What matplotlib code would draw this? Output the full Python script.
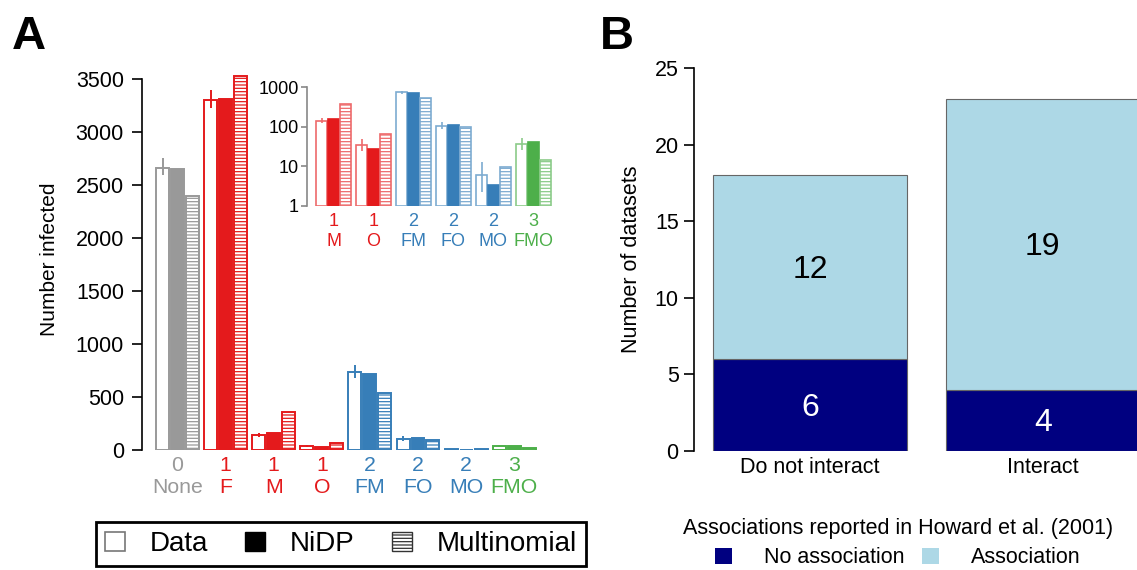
import matplotlib
matplotlib.use('Agg')

import numpy as np
import matplotlib.pyplot as plt
from matplotlib.patches import Patch
from matplotlib.colors import to_rgb

plt.rcParams['font.family'] = ['Liberation Sans', 'DejaVu Sans']

# ---------------------------------------------------------------------------
# data
# ---------------------------------------------------------------------------
groups = ['None', 'F', 'M', 'O', 'FM', 'FO', 'MO', 'FMO']
n_factors = ['0', '1', '1', '1', '2', '2', '2', '3']
data_vals = [2660, 3300, 141, 35, 735, 107, 6.0, 37]
data_lo = [2590, 3230, 122, 25, 680, 88, 2.2, 26]
data_hi = [2750, 3395, 165, 49, 800, 129, 13, 51]
nidp_vals = [2650, 3310, 158, 27, 718, 113, 3.45, 42]
multi_vals = [2400, 3530, 363, 65, 534, 97, 9.8, 14.7]
group_colors = ['#999999', '#E41A1C', '#E41A1C', '#E41A1C',
                '#377EB8', '#377EB8', '#377EB8', '#4DAF4A']
inset_idx = [2, 3, 4, 5, 6, 7]

b_cats = ['Do not interact', 'Interact']
b_no_assoc = [6, 4]
b_assoc = [12, 19]

W, H = 1137, 570


def px_axes(left, right, bottom, top):
    # pixel box (y from top) -> figure fraction
    return [left / W, 1 - bottom / H, (right - left) / W, (bottom - top) / H]


def lighten(c, amt):
    r = np.array(to_rgb(c))
    return tuple(r + (1 - r) * amt)


def draw_groups(ax, idx, width, off, base=0, light=0.0, lw=1.4):
    x = np.arange(len(idx))
    for k, i in enumerate(idx):
        c = group_colors[i]
        cl = lighten(c, light)
        ax.bar(x[k] - off, data_vals[i] - base, width, bottom=base,
               facecolor='white', edgecolor=cl, linewidth=lw)
        ax.plot([x[k] - off] * 2, [data_lo[i], data_hi[i]], color=cl, lw=lw,
                clip_on=False, solid_capstyle='butt')
        ax.bar(x[k], nidp_vals[i] - base, width, bottom=base,
               facecolor=c, edgecolor=c, linewidth=lw)
        ax.bar(x[k] + off, multi_vals[i] - base, width, bottom=base,
               facecolor='white', edgecolor=cl, hatch='-----', linewidth=lw)
    return x


fig = plt.figure(figsize=(W / 100, H / 100), dpi=100)
plt.rcParams['hatch.linewidth'] = 0.9

# ---------------------------------------------------------------------------
# panel A, main
# ---------------------------------------------------------------------------
ax = fig.add_axes(px_axes(142, 540, 450, 450 - 3600 * 371 / 3500))
x = draw_groups(ax, list(range(len(groups))), 0.27, 0.31)
ax.set_ylim(0, 3600)
ax.set_xlim(-(177.5 - 142) / 48.1, (540 - 177.5) / 48.1)
ax.spines[['top', 'right', 'bottom']].set_visible(False)
ax.spines['left'].set_bounds(0, 3500)
ax.spines['left'].set_linewidth(1.2)
ax.set_yticks(np.arange(0, 3501, 500))
ax.tick_params(axis='y', labelsize=15.5, length=7, width=1.2, pad=6)
ax.set_xticks(x)
ax.set_xticklabels([f'{n}\n{g}' for n, g in zip(n_factors, groups)],
                   fontsize=15.3, linespacing=1.2)
ax.tick_params(axis='x', length=0, pad=4)
for lab, c in zip(ax.get_xticklabels(), group_colors):
    lab.set_color(c)
ax.set_ylabel('Number infected', fontsize=15, labelpad=12)

# ---------------------------------------------------------------------------
# panel A, inset (log scale)
# ---------------------------------------------------------------------------
axi = fig.add_axes(px_axes(307, 556, 206, 87))
axi.set_yscale('log')
xi = draw_groups(axi, inset_idx, 0.27, 0.3, base=1, light=0.35, lw=1.2)
axi.set_ylim(1, 1000)
axi.set_xlim(-(333.5 - 307) / 40, (556 - 333.5) / 40)
axi.patch.set_alpha(0)
axi.spines[['top', 'right', 'bottom']].set_visible(False)
axi.spines['left'].set_color('#888888')
axi.spines['left'].set_linewidth(1.2)
axi.set_yticks([1, 10, 100, 1000])
axi.set_yticklabels(['1', '10', '100', '1000'])
axi.minorticks_off()
axi.tick_params(axis='y', labelsize=13, length=4, width=1.2, color='#888888', pad=2)
axi.set_xticks(xi)
axi.set_xticklabels([f'{n_factors[i]}\n{groups[i]}' for i in inset_idx],
                    fontsize=13, linespacing=1.2)
axi.tick_params(axis='x', length=0, pad=5)
for lab, i in zip(axi.get_xticklabels(), inset_idx):
    lab.set_color(group_colors[i])

handles = [Patch(facecolor='white', edgecolor='#777777', linewidth=1.2),
           Patch(facecolor='black', edgecolor='black'),
           Patch(facecolor='white', edgecolor='#333333', hatch='-----', linewidth=1.0)]
leg = fig.legend(handles, ['Data', 'NiDP', 'Multinomial'], ncol=3,
                 loc='center', bbox_to_anchor=(341 / W, 1 - 544 / H),
                 fontsize=20, handlelength=0.72, handleheight=0.65,
                 handletextpad=0.9, columnspacing=1.33, borderpad=0.32,
                 fancybox=False, framealpha=1)
leg.get_frame().set_edgecolor('black')
leg.get_frame().set_linewidth(2)

# ---------------------------------------------------------------------------
# panel B
# ---------------------------------------------------------------------------
axb = fig.add_axes(px_axes(694, 1137, 451, 68))
xb = np.array([0, 1.2])
axb.bar(xb, b_no_assoc, 1.0, color='#000080', edgecolor='#666666', linewidth=0.8)
axb.bar(xb, b_assoc, 1.0, bottom=b_no_assoc, color='#ADD8E6',
        edgecolor='#666666', linewidth=0.8)
for xx, n, a in zip(xb, b_no_assoc, b_assoc):
    axb.text(xx, n / 2 - 0.2, str(n), ha='center', va='center', fontsize=23,
             color='white')
    axb.text(xx, n + a / 2 - 0.2, str(a), ha='center', va='center', fontsize=23,
             color='black')
left = -0.5 - (713 - 694) / 194
axb.set_xlim(left, left + 443 / 194)
axb.set_ylim(0, 25)
axb.spines[['top', 'right', 'bottom']].set_visible(False)
axb.spines['left'].set_linewidth(1.2)
axb.set_yticks(np.arange(0, 26, 5))
axb.tick_params(axis='y', labelsize=15.5, length=7, width=1.2, pad=4)
axb.set_xticks(xb)
axb.set_xticklabels(b_cats, fontsize=15.5)
axb.tick_params(axis='x', length=0, pad=4)
axb.set_ylabel('Number of datasets', fontsize=15.5, labelpad=9)

hb = [Patch(facecolor='#000080'), Patch(facecolor='#ADD8E6')]
legb = fig.legend(hb, ['No association', 'Association'], ncol=2,
                  loc='center', bbox_to_anchor=(898 / W, 1 - 543 / H),
                  title='Associations reported in Howard et al. (2001)',
                  title_fontsize=15.5, fontsize=15.5, frameon=False,
                  handlelength=0.75, handleheight=0.75, handletextpad=1.5,
                  columnspacing=0.84, borderpad=0.1, labelspacing=0.4)

fig.text(12 / W, 1 - 37 / H, 'A', fontsize=34, fontweight='bold', va='center')
fig.text(600 / W, 1 - 37 / H, 'B', fontsize=34, fontweight='bold', va='center')

fig.savefig('out.png', dpi=100)
